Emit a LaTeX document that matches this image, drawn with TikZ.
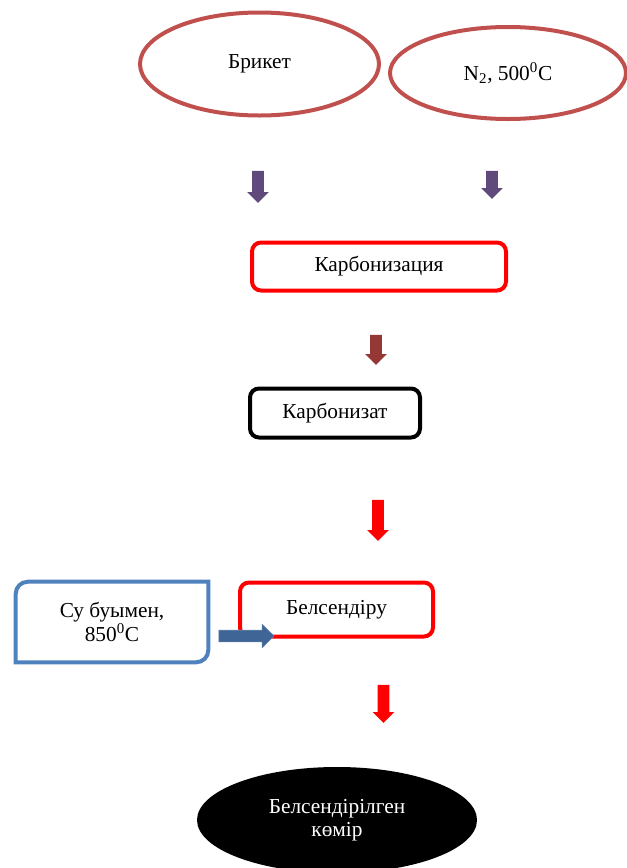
\documentclass[tikz,border=0pt]{standalone}
\usepackage{fontspec}
\setmainfont{Liberation Serif}
\usetikzlibrary{shapes.geometric,shapes.arrows}
\definecolor{ovalred}{HTML}{C0504D}
\definecolor{arrpurple}{HTML}{604A7B}
\definecolor{arrdark}{HTML}{953735}
\definecolor{boxblue}{HTML}{4F81BD}
\definecolor{arrblue}{HTML}{3F6496}
\def\px{0.75pt}
\tikzset{
  oval/.style={ellipse, draw=ovalred, line width=4*\px, inner sep=0},
  stage/.style={rectangle, rounded corners=9*\px, line width=4*\px, inner sep=0},
  blockarr/.style={single arrow, rotate=-90, inner xsep=0, inner ysep=5.5*\px,
    single arrow head extend=5*\px, single arrow tip angle=90},
  txt/.style={font=\fontsize{16pt}{16.5pt}\selectfont}
}
\begin{document}
\begin{tikzpicture}[x=0.75pt,y=-0.75pt]
		\clip (0,0) rectangle (627,868);
		\node[oval, txt, minimum width=239*\px, minimum height=103*\px] (briket) at (259.5,64) {Брикет};
		\node[oval, txt, minimum width=236*\px, minimum height=92*\px] (nitro) at (508,73) {N\textsubscript{2}, 500\textsuperscript{0}C};
		\node[blockarr, fill=arrpurple, minimum height=32*\px] (a1) at (258,184) {};
		\node[blockarr, fill=arrpurple, minimum height=28*\px] (a2) at (492,182) {};
		\node[stage, txt, draw=red, minimum width=254*\px, minimum height=48*\px] (karb) at (379,266.5) {Карбонизация};
		\node[blockarr, fill=arrdark, minimum height=30*\px] (a3) at (376,347) {};
		\node[stage, txt, draw=black, minimum width=170*\px, minimum height=49*\px] (karbz) at (335,413) {Карбонизат};
		\node[blockarr, fill=red, minimum height=41*\px] (a4) at (378,517.5) {};
		\node[stage, txt, draw=red, minimum width=193*\px, minimum height=54*\px] (bels) at (336.5,609.5) {Белсендіру};
		\node[txt, align=center, inner sep=0, minimum width=192*\px, minimum height=80*\px] (steam) at (112,622) {Су буымен,\\850\textsuperscript{0}C};
		\draw[boxblue, line width=4*\px] (steam.north east) -- ([xshift=12*\px]steam.north west) arc (90:180:9pt)
			-- (steam.south west) -- ([xshift=-12*\px]steam.south east) arc (270:360:9pt) -- cycle;
		\node[single arrow, fill=arrblue, draw=arrblue!80!white, thin, inner xsep=0, inner ysep=5.5*\px,
			single arrow head extend=6*\px, single arrow tip angle=90, minimum height=55*\px] (a6) at (243.5,636) {};
		\node[blockarr, fill=red, minimum height=38*\px] (a5) at (383.5,701) {};
		\node[ellipse, fill=black, text=white, font=\fontsize{16pt}{17.5pt}\selectfont, align=center,
			minimum width=280*\px, minimum height=106*\px] (komir) at (337,820) {Белсендірілген\\көмір};
	\end{tikzpicture}
\end{document}
